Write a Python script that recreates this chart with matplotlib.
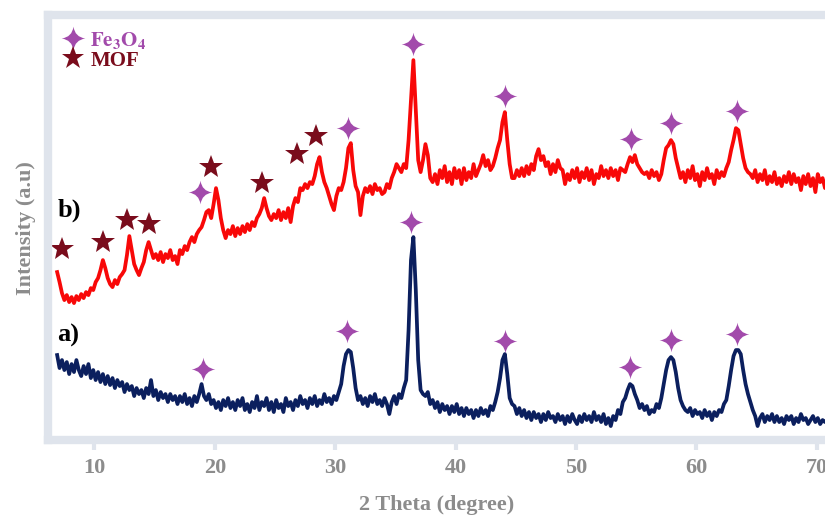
import numpy as np
import matplotlib
matplotlib.use("Agg")
import matplotlib.pyplot as plt
from matplotlib.path import Path
from matplotlib.lines import Line2D

# 2theta grid, 0.2 deg steps from 6.9 to 70.9
two_theta = np.round(np.arange(6.9, 70.95, 0.2), 1)

# a) Fe3O4 pattern (arbitrary units, read off the picture)
int_a = [
    85, 72, 80, 70, 78, 66, 76, 68, 80, 70,
    64, 74, 66, 76, 62, 70, 60, 68, 58, 66,
    56, 64, 55, 62, 52, 60, 54, 58, 48, 56,
    50, 54, 44, 52, 46, 50, 42, 52, 46, 60,
    44, 50, 40, 48, 42, 46, 38, 46, 40, 44,
    36, 44, 38, 46, 36, 42, 34, 44, 38, 46,
    56, 44, 40, 46, 36, 40, 32, 38, 30, 40,
    34, 42, 32, 38, 30, 40, 34, 42, 30, 36,
    28, 38, 32, 44, 30, 38, 34, 42, 30, 38,
    28, 40, 32, 36, 28, 42, 34, 38, 30, 40,
    34, 44, 36, 40, 32, 42, 36, 44, 34, 40,
    36, 46, 38, 42, 36, 44, 40, 48, 56, 74,
    86, 90, 88, 72, 52, 40, 44, 36, 42, 34,
    44, 38, 46, 36, 40, 34, 42, 36, 26, 38,
    44, 36, 46, 42, 52, 60, 110, 180, 203, 150,
    80, 50, 46, 44, 48, 36, 40, 32, 38, 28,
    36, 30, 34, 26, 34, 28, 36, 26, 32, 24,
    32, 26, 30, 22, 30, 24, 32, 26, 30, 24,
    34, 30, 38, 48, 62, 80, 86, 66, 42, 36,
    34, 26, 32, 24, 30, 22, 28, 20, 28, 22,
    26, 18, 26, 20, 28, 22, 24, 18, 26, 20,
    24, 16, 24, 18, 26, 20, 16, 24, 18, 26,
    20, 24, 18, 28, 20, 24, 18, 26, 16, 22,
    14, 24, 20, 30, 26, 38, 42, 50, 56, 54,
    46, 40, 32, 36, 30, 34, 26, 30, 28, 36,
    32, 42, 56, 70, 80, 83, 80, 68, 52, 40,
    34, 30, 28, 32, 24, 30, 26, 28, 22, 30,
    24, 28, 20, 28, 24, 30, 28, 36, 40, 54,
    70, 84, 90, 90, 86, 70, 56, 46, 38, 30,
    24, 14, 22, 26, 18, 24, 20, 26, 18, 24,
    18, 22, 16, 24, 20, 24, 16, 22, 18, 26,
    20, 22, 16, 20, 24, 18, 22, 16, 20, 18,
    20,
]

# b) MOF / Fe3O4 composite pattern
int_b = [
    168, 158, 147, 140, 145, 138, 143, 137, 144, 140,
    146, 142, 148, 145, 152, 150, 158, 162, 170, 180,
    172, 162, 156, 153, 160, 156, 163, 166, 170, 185,
    204, 190, 176, 170, 165, 172, 178, 190, 198, 190,
    182, 186, 180, 188, 178, 186, 182, 190, 180, 184,
    176, 190, 186, 194, 190, 198, 203, 198, 206, 210,
    213, 220, 228, 230, 222, 236, 252, 240, 222, 210,
    202, 210, 206, 214, 204, 212, 206, 214, 208, 216,
    210, 218, 214, 222, 226, 232, 242, 232, 224, 220,
    226, 222, 230, 220, 228, 222, 232, 218, 234, 242,
    238, 252, 250, 256, 252, 258, 256, 264, 276, 283,
    268, 258, 252, 244, 236, 230, 244, 252, 250, 258,
    272, 292, 297, 270, 254, 248, 225, 244, 252, 248,
    254, 246, 256, 250, 252, 246, 248, 256, 252, 262,
    268, 276, 272, 268, 276, 272, 300, 340, 380, 330,
    280, 268, 280, 296, 285, 262, 258, 266, 256, 270,
    262, 274, 258, 268, 256, 272, 262, 270, 256, 272,
    260, 268, 262, 276, 264, 270, 276, 285, 274, 280,
    270, 274, 282, 292, 300, 318, 328, 300, 276, 262,
    262, 270, 264, 272, 264, 274, 266, 276, 270, 284,
    291, 280, 284, 274, 278, 266, 276, 268, 280, 272,
    270, 256, 266, 260, 270, 262, 272, 258, 268, 262,
    272, 260, 270, 256, 266, 262, 274, 264, 270, 262,
    272, 264, 270, 260, 272, 270, 268, 276, 283, 278,
    285, 276, 272, 268, 266, 268, 262, 270, 264, 268,
    260, 266, 280, 292, 295, 300, 296, 282, 272, 262,
    268, 258, 270, 262, 274, 260, 266, 254, 268, 260,
    272, 262, 266, 256, 270, 262, 268, 264, 272, 278,
    290, 300, 312, 310, 296, 282, 272, 268, 266, 262,
    270, 258, 266, 260, 270, 256, 264, 258, 268, 256,
    262, 254, 264, 258, 268, 256, 266, 258, 262, 250,
    264, 256, 266, 254, 262, 248, 266, 258, 262, 252,
    264,
]

# peak markers
fe_b_x = [18.8, 31.1, 36.5, 44.1, 54.6, 57.9, 63.4]
fe_b_y = [248, 312, 396, 344, 301, 317, 329]
fe_a_x = [19.0, 31.0, 36.3, 44.1, 54.5, 57.9, 63.4]
fe_a_y = [71, 109, 218, 99, 73, 100, 106]
mof_x = [7.3, 10.7, 12.7, 14.5, 19.7, 23.9, 26.8, 28.4]
mof_y = [191, 198, 220, 216, 273, 257, 286, 304]

xticks = [10, 20, 30, 40, 50, 60, 70]

plt.rcParams['font.family'] = ['Liberation Serif', 'DejaVu Serif']
plt.rcParams['mathtext.fontset'] = 'stix'

# 4-point sparkle marker
c = 0.12
sparkle = Path(
    [(0, 1), (c, c), (1, 0), (c, -c), (0, -1), (-c, -c), (-1, 0), (-c, c), (0, 1), (0, 1)],
    [Path.MOVETO, Path.CURVE3, Path.CURVE3, Path.CURVE3, Path.CURVE3,
     Path.CURVE3, Path.CURVE3, Path.CURVE3, Path.CURVE3, Path.CLOSEPOLY])

navy = '#0b1f5e'
red = '#f80808'
purple = '#a24aab'
maroon = '#7a0c1c'
frame = '#dfe4ec'
gray = '#8c8c8c'

n = min(len(two_theta), len(int_a), len(int_b))

fig = plt.figure(figsize=(8.25, 5.22), dpi=100)
ax = fig.add_axes([0.0576, 0.157, 0.9424, 0.814])

ax.plot(two_theta[:n], int_a[:n], color=navy, lw=2.7)
ax.plot(two_theta[:n], int_b[:n], color=red, lw=2.7)

ax.plot(fe_b_x, fe_b_y, ls='none', marker=sparkle, ms=17, color=purple, mew=0)
ax.plot(fe_a_x, fe_a_y, ls='none', marker=sparkle, ms=17, color=purple, mew=0)
ax.plot(mof_x, mof_y, ls='none', marker='*', ms=18, color=maroon, mew=0)

ax.text(6.9, 230, 'b)', fontsize=19, fontweight='bold', va='center', ha='left')
ax.text(6.9, 105, 'a)', fontsize=19, fontweight='bold', va='center', ha='left')

handles = [Line2D([], [], ls='none', marker=sparkle, ms=17, color=purple, mew=0),
           Line2D([], [], ls='none', marker='*', ms=17, color=maroon, mew=0)]
ax.legend(handles, [r'$\mathbf{Fe_3O_4}$', 'MOF'], loc='upper left', frameon=False,
          labelcolor=[purple, maroon], prop={'weight': 'bold', 'size': 15},
          handlelength=1.0, handletextpad=0.35, labelspacing=0.0,
          borderaxespad=0.5, borderpad=0.2)

ax.set_xlim(6.1, 70.7)
ax.set_ylim(0, 425)
ax.set_xticks(xticks)
ax.set_yticks([])
for s in ['left', 'bottom', 'top']:
    ax.spines[s].set_color(frame)
    ax.spines[s].set_linewidth(6)
ax.spines['right'].set_visible(False)
ax.tick_params(axis='x', colors=frame, length=7, width=3, direction='out',
               labelsize=16, labelcolor=gray, pad=6)
for lab in ax.get_xticklabels():
    lab.set_fontweight('bold')

ax.set_xlabel('2 Theta (degree)', fontsize=16, fontweight='bold', color=gray, labelpad=12)
ax.set_ylabel('Intensity (a.u)', fontsize=16, fontweight='bold', color=gray, labelpad=8)

fig.savefig('out.png', dpi=100)
